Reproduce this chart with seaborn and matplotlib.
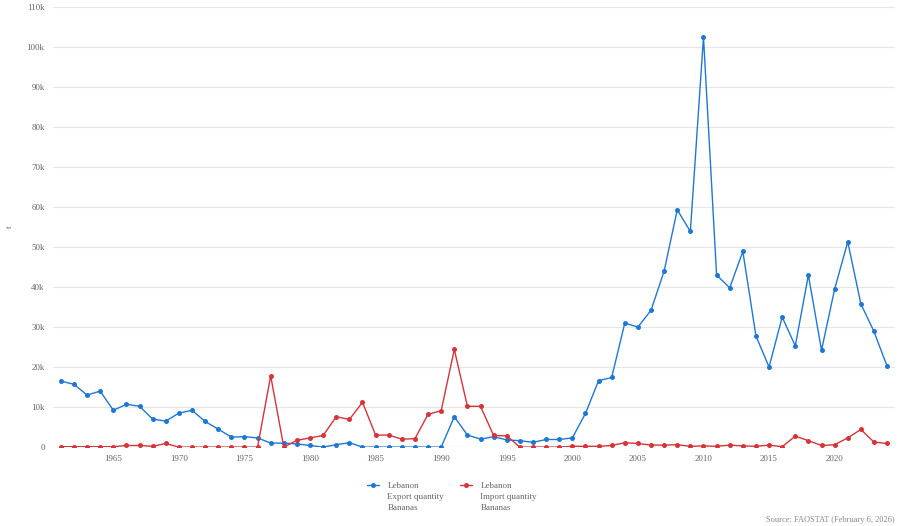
import pandas as pd
import numpy as np
import matplotlib
matplotlib.use("Agg")
import matplotlib.pyplot as plt
import seaborn as sns

years = list(range(1961, 2025))

export_qty = [16.5, 15.7, 13.0, 14.0, 9.2, 10.7, 10.2, 7.0, 6.5, 8.5,
              9.2, 6.4, 4.5, 2.5, 2.6, 2.3, 1.0, 1.0, 0.8, 0.4,
              0.0, 0.6, 1.1, 0.0, 0.0, 0.0, 0.0, 0.0, 0.0, 0.0,
              7.6, 3.0, 2.0, 2.6, 1.8, 1.6, 1.2, 1.9, 1.9, 2.3,
              8.4, 16.6, 17.4, 31.0, 30.0, 34.2, 44.0, 59.3, 53.9, 102.5,
              43.0, 39.8, 48.9, 27.8, 20.0, 32.5, 25.3, 43.0, 24.2, 39.5,
              51.3, 35.8, 28.9, 20.2]

import_qty = [0.1, 0.1, 0.1, 0.1, 0.1, 0.4, 0.4, 0.2, 0.9, 0.0,
              0.0, 0.0, 0.0, 0.0, 0.0, 0.0, 17.8, 0.0, 1.7, 2.3,
              2.9, 7.6, 6.9, 11.2, 3.0, 3.0, 2.0, 2.1, 8.2, 9.1,
              24.4, 10.2, 10.2, 2.9, 2.8, 0.0, 0.0, 0.0, 0.0, 0.2,
              0.2, 0.2, 0.4, 1.1, 0.9, 0.5, 0.5, 0.6, 0.2, 0.3,
              0.2, 0.5, 0.3, 0.2, 0.5, 0.1, 2.75, 1.6, 0.4, 0.6,
              2.3, 4.4, 1.25, 0.9]

series_labels = ["Lebanon\nExport quantity\nBananas", "Lebanon\nImport quantity\nBananas"]

df = pd.concat([
    pd.DataFrame({"year": years, "value": np.array(export_qty) * 1000, "series": series_labels[0]}),
    pd.DataFrame({"year": years, "value": np.array(import_qty) * 1000, "series": series_labels[1]}),
])

sns.set_style("white")
plt.rcParams['font.family'] = ['Liberation Serif', 'DejaVu Serif']

fig = plt.figure(figsize=(9.04, 5.26), dpi=100)
ax = fig.add_axes([0.0586, 0.150, 0.9314, 0.8367])

palette = {series_labels[0]: "#1f77d4", series_labels[1]: "#d6333a"}
sns.lineplot(data=df, x="year", y="value", hue="series", palette=palette,
             marker="o", markersize=3.6, markeredgewidth=0, linewidth=1, ax=ax)

ax.set_xlim(1960.4, 2024.6)
ax.set_ylim(0, 110000)
ax.set_yticks(range(0, 110001, 10000))
ax.set_yticklabels(["0"] + [f"{i}k" for i in range(10, 111, 10)])
ax.set_xticks(range(1965, 2021, 5))
ax.tick_params(axis="both", labelsize=6.5, colors="#666666", length=0, pad=6)
ax.grid(axis="y", color="#e6e6e6", linewidth=0.8)
ax.set_axisbelow(True)
for s in ax.spines.values():
    s.set_visible(False)
ax.axhline(0, color="#cccccc", linewidth=0.8, zorder=0)
ax.set_xlabel("")
ax.set_ylabel("t", fontsize=6.5, color="#666666", labelpad=9)

ax.get_legend().remove()
handles, labels = ax.get_legend_handles_labels()
leg = fig.legend(handles, labels, loc="upper center", bbox_to_anchor=(0.5, 1 - 474 / 526),
                 ncol=2, frameon=False, fontsize=6.5, labelcolor="#666666",
                 handlelength=1.35, handletextpad=0.9, columnspacing=1.8)
for t in leg.get_texts():
    t.set_linespacing(1.45)
# put the handle next to the first line of each label
for col in leg._legend_handle_box.get_children():
    for item in col.get_children():
        item.align = "top"

fig.text(0.99, 0.004, "Source: FAOSTAT (February 6, 2026)", ha="right", va="bottom",
         fontsize=6, color="#888888")

fig.savefig("out.png", dpi=100)
